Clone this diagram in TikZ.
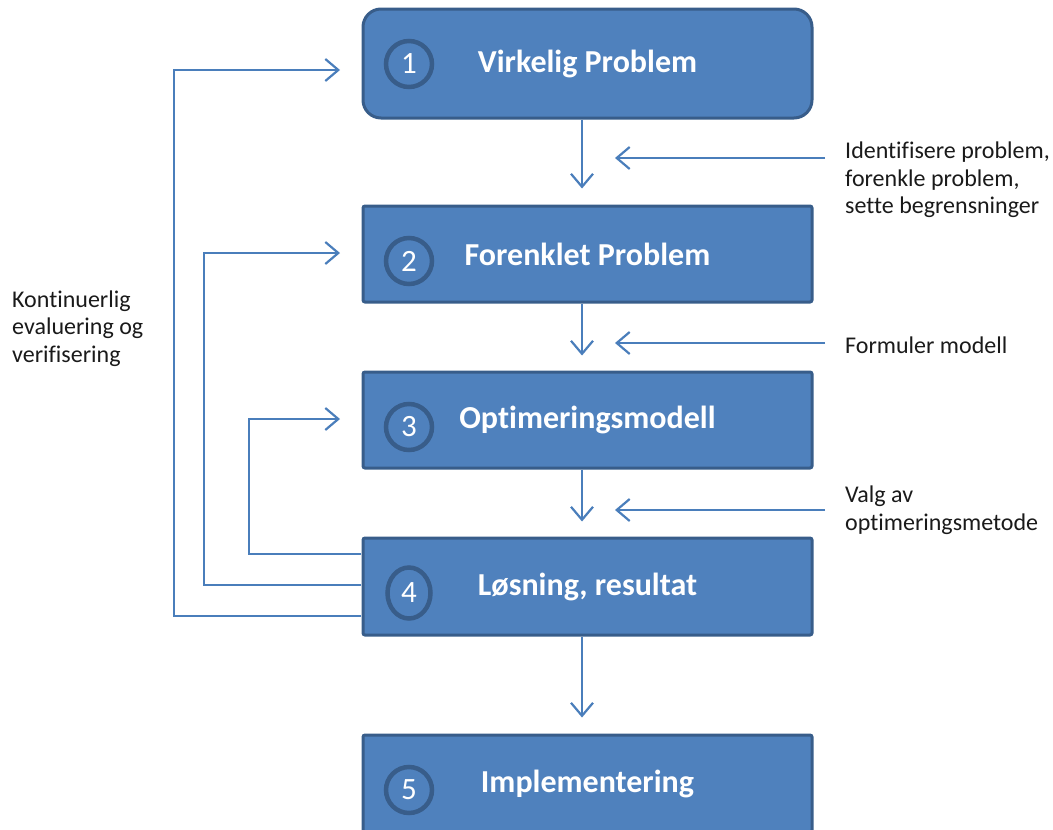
\documentclass[tikz,border=0pt]{standalone}
\usepackage{fontspec}
\setmainfont{Carlito}[Ligatures={NoCommon}]
\usetikzlibrary{arrows.meta,shapes.geometric}
\definecolor{boxfill}{HTML}{4F81BD}
\definecolor{boxline}{HTML}{385D8A}
\definecolor{arrcol}{HTML}{4A7EBB}
\definecolor{txt}{HTML}{1A1A1A}
\tikzset{
  stepbox/.style={draw=boxline, line width=3pt, fill=boxfill, minimum width=449pt,
    text=white, font=\fontsize{32}{36}\selectfont\bfseries, inner sep=0pt},
  numcirc/.style={circle, draw=boxline, line width=4.5pt, fill=boxfill, minimum size=46pt,
    inner sep=0pt, text=white, font=\fontsize{31}{34}\selectfont},
  arr/.style={draw=arrcol, line width=2.2pt, -{Straight Barb[length=13pt,width=22pt,line width=2.2pt]}},
  side/.style={text=txt, font=\fontsize{24}{27.5}\selectfont, align=left, inner sep=0pt, anchor=west}
}
\begin{document}
\begin{tikzpicture}[x=1pt,y=-1pt]
\useasboundingbox (0,0) rectangle (1053,830);
\begin{scope}
\clip (0,0) rectangle (1053,830);
% boxes
\node[stepbox, rounded corners=18pt, minimum height=109pt] (b1) at (587.5,63.5) {Virkelig Problem};
\node[stepbox, rounded corners=2pt, minimum height=96pt] (b2) at (587.5,254) {Forenklet Problem};
\node[stepbox, rounded corners=2pt, minimum height=96pt] (b3) at (587.5,420) {Optimeringsmodell};
\node[stepbox, rounded corners=2pt, minimum height=97pt] (b4) at (587.5,586.5) {Løsning, resultat};
\node[stepbox, rounded corners=2pt, minimum height=97pt] (b5) at (587.5,783.5) {Implementering};
% number circles
\node[numcirc] (c1) at (409,64) {1};
\node[numcirc] (c2) at (409,261) {2};
\node[numcirc] (c3) at (409,427) {3};
\node[numcirc, ellipse, minimum width=43pt, minimum height=51pt] (c4) at (409,593) {4};
\node[numcirc] (c5) at (409,790) {5};
% vertical arrows
\draw[arr] ([xshift=-5.5pt]b1.south) -- ([xshift=-5.5pt,yshift=16pt]b2.north);
\draw[arr] ([xshift=-5.5pt]b2.south) -- ([xshift=-5.5pt,yshift=15pt]b3.north);
\draw[arr] ([xshift=-5.5pt]b3.south) -- ([xshift=-5.5pt,yshift=15pt]b4.north);
\draw[arr] ([xshift=-5.5pt]b4.south) -- ([xshift=-5.5pt,yshift=16pt]b5.north);
% side texts
\node[side] (t1) at (845,180) {Identifisere problem,\\forenkle problem,\\sette begrensninger};
\node[side] (t2) at (845,345) {Formuler modell};
\node[side] (t3) at (845,510) {Valg av\\optimeringsmetode};
\node[side] (t4) at (12,328.5) {Kontinuerlig\\evaluering og\\verifisering};
% right arrows
\coordinate (r1) at (825,158); \coordinate (l1) at (615,158);
\coordinate (r2) at (825,343); \coordinate (l2) at (615,343);
\coordinate (r3) at (825,510); \coordinate (l3) at (615,510);
\draw[arr] (r1) -- (l1);
\draw[arr] (r2) -- (l2);
\draw[arr] (r3) -- (l3);
% feedback loops
\coordinate (s1) at (361,616); \coordinate (e1) at (340,70);
\coordinate (s2) at (361,585); \coordinate (e2) at (340,253);
\coordinate (s3) at (361,554); \coordinate (e3) at (340,419);
\draw[arr] (s1) -- (174,616) -- (174,70) -- (e1);
\draw[arr] (s2) -- (204,585) -- (204,253) -- (e2);
\draw[arr] (s3) -- (249,554) -- (249,419) -- (e3);
\end{scope}
\end{tikzpicture}
\end{document}
